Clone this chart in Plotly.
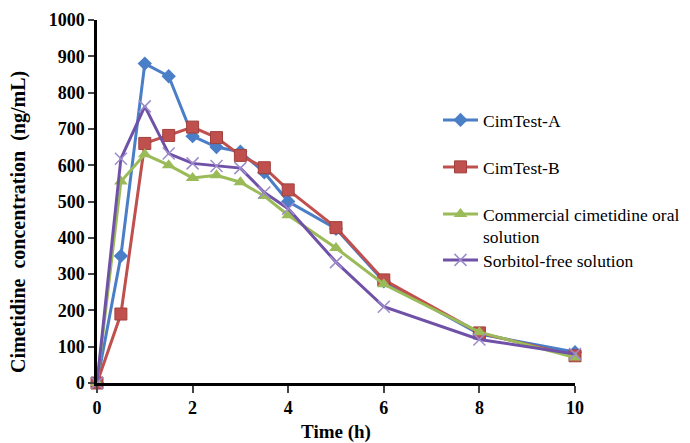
import plotly.graph_objects as go

time_h = [0, 0.5, 1, 1.5, 2, 2.5, 3, 3.5, 4, 5, 6, 8, 10]
cimtest_a = [0, 350, 880, 845, 680, 650, 637, 580, 500, 425, 280, 135, 85]
cimtest_b = [0, 190, 660, 682, 705, 676, 627, 593, 532, 428, 284, 138, 75]
commercial = [0, 555, 630, 600, 565, 572, 553, 515, 462, 372, 272, 140, 70]
sorbitol_free = [0, 618, 762, 632, 605, 598, 592, 525, 480, 333, 210, 120, 80]

x_ticks = [0, 2, 4, 6, 8, 10]
y_ticks = [0, 100, 200, 300, 400, 500, 600, 700, 800, 900, 1000]

names = ["CimTest-A", "CimTest-B", "Commercial cimetidine oral<br>solution", "Sorbitol-free solution"]
series = [cimtest_a, cimtest_b, commercial, sorbitol_free]
colors = ["#4A7EC7", "#C0504D", "#9BBB59", "#7051A8"]
markers = [
    dict(symbol="diamond", size=11, color="#4A7EC7"),
    dict(symbol="square", size=12, color="#C0504D", line=dict(color="#A0403D", width=1)),
    dict(symbol="triangle-up", size=12, color="#9BBB59"),
    dict(symbol="x-thin", size=12, line=dict(color="#9D8CCB", width=1.5)),
]
legend_ids = ["legend", "legend2", "legend3", "legend4"]

fig = go.Figure()
for i, (nm, ys) in enumerate(zip(names, series)):
    fig.add_trace(go.Scatter(
        x=time_h, y=ys, name=nm, mode="lines+markers",
        line=dict(color=colors[i], width=3),
        marker=markers[i],
        legend=legend_ids[i],
        cliponaxis=False,
    ))

serif = "Liberation Serif, Times New Roman, serif"
# plot area: x 97..575, y 20..383 in page pixels (page body has 8px margin)
W, H = 682, 435
ml, mr, mt, mb = 89, 115, 12, 60
plot_h = H - mt - mb

def leg_y(center_px):
    top_px = center_px - 18
    return (383 - top_px) / plot_h

leg_common = dict(
    xanchor="left", yanchor="top", valign="top",
    font=dict(family=serif, size=17.5, color="black"),
    itemwidth=35, bgcolor="rgba(0,0,0,0)",
)
lx = (438 - 97) / 478
y_title = "Cimetidine\u00a0\u00a0concentration\u00a0\u00a0(ng/mL)"
fig.update_layout(
    width=W, height=H,
    margin=dict(l=ml, r=mr, t=mt, b=mb, autoexpand=False),
    plot_bgcolor="white", paper_bgcolor="white",
    font=dict(family=serif, size=14, color="black"),
    showlegend=True,
    legend=dict(x=lx, y=leg_y(120), **leg_common),
    legend2=dict(x=lx, y=leg_y(167), **leg_common),
    legend3=dict(x=lx, y=leg_y(214), **leg_common),
    legend4=dict(x=lx, y=leg_y(260), **leg_common),
    xaxis=dict(
        range=[0, 10], tickvals=x_ticks, ticks="outside", ticklen=7, tickwidth=2,
        showline=True, linecolor="black", linewidth=2.5, showgrid=False, zeroline=False,
        tickfont=dict(family=serif, size=18, color="black", weight="bold"),
        title=dict(text="<b>Time (h)</b>", font=dict(family=serif, size=19), standoff=8),
    ),
    yaxis=dict(
        range=[0, 1000], tickvals=y_ticks, ticks="outside", ticklen=6, tickwidth=2,
        showline=True, linecolor="black", linewidth=2.5, showgrid=False, zeroline=False,
        tickfont=dict(family=serif, size=18, color="black", weight="bold"),
    ),
    annotations=[dict(
        text=f"<b>{y_title}</b>", xref="paper", yref="paper",
        x=(18 - 97) / 478, y=(383 - 222) / plot_h, xanchor="center", yanchor="middle",
        textangle=-90, showarrow=False, font=dict(family=serif, size=20, color="black"),
    )],
)

fig.write_html("out.html")
